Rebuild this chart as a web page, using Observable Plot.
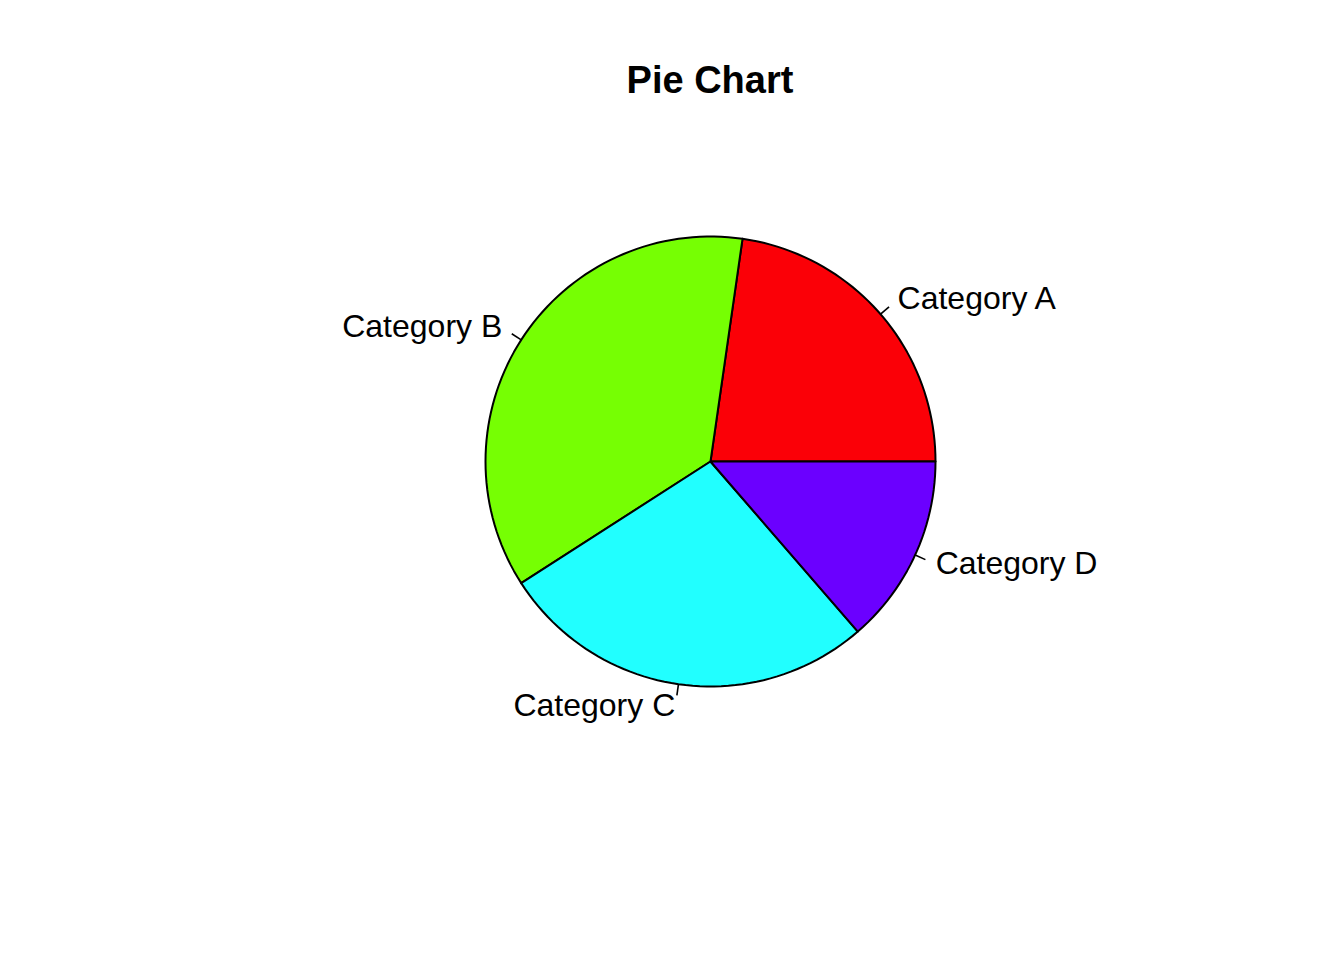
<!DOCTYPE html>
<html>
<head>
<meta charset="utf-8">
<script src="https://cdn.jsdelivr.net/npm/d3@7"></script>
<script src="https://cdn.jsdelivr.net/npm/@observablehq/plot@0.6"></script>
<style>
  html, body { margin: 0; padding: 0; background: #fff; overflow: hidden; }
  #title {
    box-sizing: border-box; width: 1344px; height: 120px;
    padding-left: 76px; padding-top: 61px; text-align: center;
    font-family: "Liberation Sans", Arial, Helvetica, sans-serif;
    font-weight: bold; font-size: 38px; line-height: 38px; color: #000;
  }
</style>
</head>
<body>
<div id="title">Pie Chart</div>
<div id="chart"></div>
<script>
// Data
const categories = ["Category A", "Category B", "Category C", "Category D"];
const values = [25, 40, 30, 15];
const colors = ["#fb0007", "#76ff03", "#21ffff", "#6b00ff"];

// Build slice polygons (counter-clockwise from 3 o'clock, like R's pie)
const total = d3.sum(values);
const edges = 200;
const points = [];
const mids = [];
let cum = 0;
values.forEach((v, i) => {
  const t0 = cum / total, t1 = (cum + v) / total;
  cum += v;
  const n = Math.max(2, Math.floor(edges * (t1 - t0)));
  points.push({cat: categories[i], x: 0, y: 0});
  for (let k = 0; k <= n; k++) {
    const a = 2 * Math.PI * (t0 + (t1 - t0) * k / n);
    points.push({cat: categories[i], x: Math.cos(a), y: Math.sin(a)});
  }
  points.push({cat: categories[i], x: 0, y: 0});
  const am = Math.PI * (t0 + t1);
  mids.push({cat: categories[i], cx: Math.cos(am), cy: Math.sin(am)});
});

const right = mids.filter(d => d.cx >= 0);
const left = mids.filter(d => d.cx < 0);
const font = "Liberation Sans, Arial, Helvetica, sans-serif";

const chart = Plot.plot({
  width: 1344,
  height: 840,
  margin: 0,
  x: {domain: [-710 / 225, 634 / 225], axis: null},
  y: {domain: [-499 / 225, 341 / 225], axis: null},
  color: {domain: categories, range: colors},
  style: {fontFamily: font, background: "white"},
  marks: [
    Plot.line(points, {x: "x", y: "y", z: "cat", fill: "cat", stroke: "black", strokeWidth: 2, curve: "linear", strokeLinejoin: "round"}),
    Plot.link(mids, {x1: d => d.cx, y1: d => d.cy, x2: d => 1.05 * d.cx, y2: d => 1.05 * d.cy, stroke: "black", strokeWidth: 1.6}),
    Plot.text(right, {x: d => 1.1 * d.cx, y: d => 1.1 * d.cy, text: "cat", textAnchor: "start", lineAnchor: "middle", dy: -1, fontSize: 32, fill: "black"}),
    Plot.text(left, {x: d => 1.1 * d.cx, y: d => 1.1 * d.cy, text: "cat", textAnchor: "end", lineAnchor: "middle", dy: -1, fontSize: 32, fill: "black"})
  ]
});
document.getElementById("chart").appendChild(chart);
</script>
</body>
</html>
